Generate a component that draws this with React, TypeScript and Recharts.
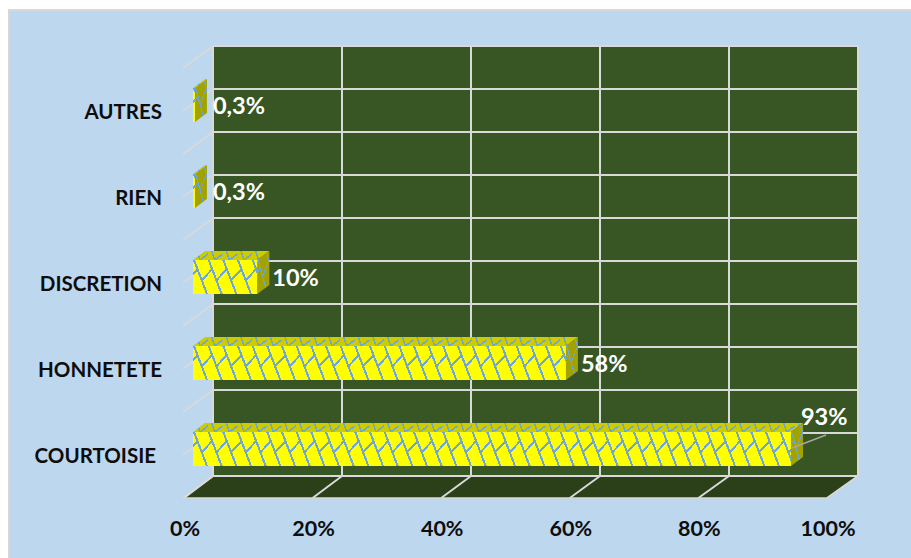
import { Bar, BarChart, LabelList, XAxis, YAxis } from "recharts";

const categories = ["AUTRES", "RIEN", "DISCRETION", "HONNETETE", "COURTOISIE"];
const shares = [0.3, 0.3, 10, 58, 93];
const xTicks = [0, 20, 40, 60, 80, 100];

const chartData = categories.map((name, i) => ({ name, share: shares[i] }));

const WIDTH = 911;
const HEIGHT = 558;
const FONT = "Lato, 'Open Sans', sans-serif";

// front plane of the fake 3D box
const PLOT_LEFT = 185;
const PLOT_TOP = 68;
const PLOT_WIDTH = 643;
const PLOT_HEIGHT = 430;
// how far the back wall sits from the front plane
const WALL_DX = 28;
const WALL_DY = -22;
// bars stand part way into the box
const BAR_DX = 8;
const BAR_DY = -6;
const BAR_DEPTH_X = 12;
const BAR_DEPTH_Y = -9;
const BAR_SIZE = 34;

const GRID = "#D9D9D9";
const HATCH = "#6CA6DC";
const LINE_ROWS = 10;
const STEP = 44 / 3;

const Walls = () => {
  const left = PLOT_LEFT + WALL_DX;
  const top = PLOT_TOP + WALL_DY;
  const bottom = PLOT_TOP + PLOT_HEIGHT;
  const back = bottom + WALL_DY;
  const rows = Array.from({ length: LINE_ROWS + 1 }, (_, i) => i);
  return (
    <g>
      <rect x={left} y={top} width={PLOT_WIDTH + 2} height={back - top} fill="#375623" />
      <polygon
        points={`${PLOT_LEFT},${bottom} ${left},${back} ${left + PLOT_WIDTH + 2},${back} ${PLOT_LEFT + PLOT_WIDTH},${bottom}`}
        fill="#2B3F19"
      />
      {rows.map((i) => {
        const y = top + (i * (back - top)) / LINE_ROWS;
        return (
          <g key={i} stroke={GRID} strokeWidth={2} fill="none">
            <line x1={left} y1={y} x2={left + PLOT_WIDTH + 2} y2={y} />
            <line x1={PLOT_LEFT - 2} y1={y - WALL_DY} x2={left} y2={y} />
          </g>
        );
      })}
      {xTicks.map((t) => {
        const x = PLOT_LEFT + (t / 100) * PLOT_WIDTH;
        const bx = x + WALL_DX + (t / 100) * 2;
        return (
          <g key={t} stroke={GRID} strokeWidth={2} fill="none">
            <line x1={bx} y1={top} x2={bx} y2={back} />
            <line x1={x - 1} y1={bottom} x2={bx} y2={back} />
          </g>
        );
      })}
      <line x1={PLOT_LEFT} y1={bottom} x2={PLOT_LEFT + PLOT_WIDTH} y2={bottom} stroke={GRID} strokeWidth={1.5} />
    </g>
  );
};

// one run of the trellis: a steep stroke plus a connector to the previous stroke
const hatchPath = (from: number, to: number) => {
  let d = "";
  for (let n = from; n <= to; n++) {
    const u = n * STEP;
    d += `M${u + 1} 0 L${u + 14} 34 M${u - 6.5} 21 L${u + 4.5} 9 `;
  }
  return d;
};

// same idea for the lid, squeezed into the depth of the bar
const lidPath = (from: number, to: number) => {
  let d = "";
  for (let n = from; n <= to; n++) {
    const u = n * STEP;
    d += `M${u + 4} -9 L${u + 7} 0 M${u + 7} 0 L${u + 15} -6 `;
  }
  return d;
};

const HatchedBar = (props: any) => {
  const { x, y, width, height, index } = props;
  const dx = BAR_DEPTH_X;
  const dy = BAR_DEPTH_Y;
  const tiles = Math.ceil(width / STEP) + 1;
  const lid = `0,0 ${dx},${dy} ${width + dx},${dy} ${width},0`;
  const side = `0,0 ${dx},${dy} ${dx},${height + dy} 0,${height}`;
  return (
    <g transform={`translate(${x + BAR_DX},${y + BAR_DY})`}>
      <clipPath id={`lid-${index}`}>
        <polygon points={lid} />
      </clipPath>
      <clipPath id={`side-${index}`}>
        <polygon points={side} />
      </clipPath>
      <clipPath id={`front-${index}`}>
        <rect width={width} height={height} />
      </clipPath>

      <polygon points={lid} fill="#CCCC00" />
      <path
        d={lidPath(-1, tiles)}
        clipPath={`url(#lid-${index})`}
        stroke={HATCH}
        strokeWidth={1.6}
        fill="none"
        shapeRendering="crispEdges"
      />

      <g transform={`translate(${width},0)`}>
        <polygon points={side} fill="#A3A300" />
        <g clipPath={`url(#side-${index})`}>
          <path
            d={hatchPath(-1, 2)}
            transform="matrix(0.6,-0.45,0,1,0,0)"
            stroke={HATCH}
            strokeWidth={1.6}
            fill="none"
            shapeRendering="crispEdges"
          />
        </g>
      </g>

      <rect width={width} height={height} fill="#FFFF00" />
      <path
        d={hatchPath(-1, tiles)}
        clipPath={`url(#front-${index})`}
        stroke={HATCH}
        strokeWidth={2}
        fill="none"
        shapeRendering="crispEdges"
      />
    </g>
  );
};

const LEADER_INDEX = 4;

const ValueLabel = (props: any) => {
  const { x, y, width, height, value, index } = props;
  const endX = x + BAR_DX + width;
  const midY = y + BAR_DY + height / 2;
  const text = `${value}%`.replace(".", ",");
  const moved = index === LEADER_INDEX;
  const gap = value < 1 ? 18 : 15;
  return (
    <g>
      {moved && (
        <line x1={endX + 1} y1={midY - 1} x2={endX + 35} y2={midY - 14} stroke="#A6A6A6" strokeWidth={1.5} />
      )}
      <text
        x={moved ? endX + 10 : endX + gap}
        y={moved ? midY - 33 : midY}
        fill="#FFFFFF"
        fontFamily={FONT}
        fontWeight={700}
        fontSize={23.5}
        dominantBaseline="central"
      >
        {text}
      </text>
    </g>
  );
};

const CategoryTick = (props: any) => {
  const { y, payload } = props;
  const right = payload.value === "COURTOISIE" ? 156 : 162;
  return (
    <text
      x={right}
      y={y}
      textAnchor="end"
      dominantBaseline="central"
      fill="#0D0D0D"
      fontFamily={FONT}
      fontWeight={700}
      fontSize={20.5}
    >
      {payload.value}
    </text>
  );
};

const PercentTick = (props: any) => {
  const { x, y, payload } = props;
  return (
    <text
      x={x}
      y={y}
      textAnchor="middle"
      dominantBaseline="central"
      fill="#0D0D0D"
      fontFamily={FONT}
      fontWeight={700}
      fontSize={21.5}
    >
      {`${payload.value}%`}
    </text>
  );
};

const App = () => {
  return (
    <div style={{ position: "absolute", left: 0, top: 0, width: WIDTH, height: HEIGHT, background: "#fff", overflow: "hidden" }}>
      <div
        style={{
          position: "absolute",
          left: 8,
          top: 9,
          right: 0,
          bottom: 0,
          background: "#BDD7EE",
          borderLeft: "2px solid #D9D5D0",
          borderTop: "2px solid #D9D9D9",
        }}
      />
      <div style={{ position: "absolute", left: 0, top: 0 }}>
        <BarChart
          width={WIDTH}
          height={HEIGHT}
          data={chartData}
          layout="vertical"
          barSize={BAR_SIZE}
          margin={{ top: PLOT_TOP, right: WIDTH - PLOT_LEFT - PLOT_WIDTH, bottom: 0, left: 0 }}
        >
          <Walls />
          <XAxis
            type="number"
            domain={[0, 100]}
            ticks={xTicks}
            height={HEIGHT - PLOT_TOP - PLOT_HEIGHT}
            tick={<PercentTick />}
            tickLine={false}
            axisLine={false}
            tickMargin={24}
            interval={0}
          />
          <YAxis
            type="category"
            dataKey="name"
            width={PLOT_LEFT}
            tick={<CategoryTick />}
            tickLine={false}
            axisLine={false}
            interval={0}
          />
          <Bar dataKey="share" shape={<HatchedBar />} isAnimationActive={false}>
            <LabelList dataKey="share" content={<ValueLabel />} />
          </Bar>
        </BarChart>
      </div>
    </div>
  );
};

export default App;
